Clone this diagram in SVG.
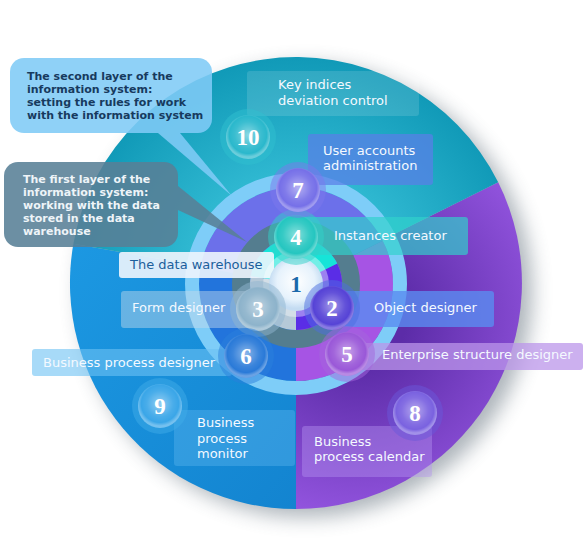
<svg xmlns="http://www.w3.org/2000/svg" width="588" height="547" viewBox="0 0 588 547">
<defs>
<style>
.lbl{font-family:"DejaVu Sans",Verdana,sans-serif;font-size:13px;fill:#f4f9ff}
.co{font-family:"DejaVu Sans",Verdana,sans-serif;font-size:11px;font-weight:bold}
.num{font-family:"Liberation Serif","Times New Roman",serif;font-size:23px;font-weight:bold;fill:#ffffff;text-anchor:middle}
.halo{opacity:.5}
</style>
<filter id="sh" x="-20%" y="-20%" width="140%" height="140%"><feGaussianBlur stdDeviation="10"/></filter>
<radialGradient id="gTeal" cx="296" cy="284" r="226" gradientUnits="userSpaceOnUse"><stop offset="0.4" stop-color="#34bdd5"/><stop offset="1" stop-color="#119ab8"/></radialGradient>
<radialGradient id="gPurple" cx="360" cy="320" r="230" gradientUnits="userSpaceOnUse"><stop offset="0.2" stop-color="#5c2ca8"/><stop offset="1" stop-color="#9d5ce9"/></radialGradient>
<linearGradient id="gBlue" x1="0" y1="0" x2="1" y2="1"><stop offset="0" stop-color="#1c98e2"/><stop offset="1" stop-color="#1384d0"/></linearGradient>
<radialGradient id="gloss" cx="0.5" cy="0.45" r="0.5"><stop offset="0" stop-color="#fff" stop-opacity=".45"/><stop offset=".6" stop-color="#fff" stop-opacity=".08"/><stop offset=".85" stop-color="#fff" stop-opacity="0"/><stop offset="1" stop-color="#fff" stop-opacity=".3"/></radialGradient>
<radialGradient id="gOne" cx="0.5" cy="0.45" r="0.5"><stop offset="0" stop-color="#ffffff"/><stop offset=".7" stop-color="#e6f2fc"/><stop offset="1" stop-color="#c4dcf2"/></radialGradient>
</defs>
<rect width="588" height="547" fill="#ffffff"/>

<g id="disc">
<circle cx="306" cy="291" r="226" fill="#4a5a68" opacity=".45" filter="url(#sh)"/>
<path d="M296,283 L498.2,182.2 A226,226 0 0 1 296,509 Z" fill="url(#gPurple)"/>
<path d="M296,283 L296,509 A226,226 0 0 1 73.4,243.8 Z" fill="url(#gBlue)"/>
<path d="M296,283 L73.4,243.8 A226,226 0 0 1 498.2,182.2 Z" fill="url(#gTeal)"/>
<path d="M296,284 L382.8,240.7 A97,97 0 0 1 296,381 Z" fill="#a654e4"/>
<path d="M296,284 L296,381 A97,97 0 0 1 200.5,267.2 Z" fill="#2274dc"/>
<path d="M296,284 L200.5,267.2 A97,97 0 0 1 382.8,240.7 Z" fill="#6c70ea"/>
<circle cx="296" cy="284" r="104" fill="none" stroke="#7ecdf8" stroke-width="14"/>
<circle cx="296" cy="284" r="55" fill="none" stroke="#547d8f" stroke-width="18"/>
<path d="M296,284 L337.2,263.5 A46,46 0 0 1 296,330 Z" fill="#5a2de6"/>
<path d="M296,284 L296,330 A46,46 0 0 1 250.7,276 Z" fill="#b6c9d8"/>
<path d="M296,284 L250.7,276 A46,46 0 0 1 337.2,263.5 Z" fill="#16e4d8"/>
</g>

<g id="connectors">
<path d="M158,133 L232,196 L180,133 Z" fill="#7fcbf6" opacity=".88"/>
<path d="M178,186 L247,242 L178,210 Z" fill="#587f96" opacity=".88"/>
</g>

<g id="callout-second">
<rect x="10" y="58" width="202" height="75" rx="14" fill="#7fcbf6" opacity=".88"/>
<text class="co" fill="#173a5e"><tspan x="27" y="80">The second layer of the</tspan><tspan x="27" y="93">information system:</tspan><tspan x="27" y="106">setting the rules for work</tspan><tspan x="27" y="119">with the information system</tspan></text>
</g>
<g id="callout-first">
<rect x="4" y="162" width="174" height="85" rx="14" fill="#587f96" opacity=".88"/>
<text class="co" fill="#eef4f8"><tspan x="23" y="183">The first layer of the</tspan><tspan x="23" y="196">information system:</tspan><tspan x="23" y="209">working with the data</tspan><tspan x="23" y="222">stored in the data</tspan><tspan x="23" y="235">warehouse</tspan></text>
</g>

<g id="label-key">
<rect x="247" y="71" width="172" height="45" rx="3" fill="#ffffff" opacity=".13"/>
<text class="lbl"><tspan x="278" y="89">Key indices</tspan><tspan x="278" y="105">deviation control</tspan></text>
</g>
<g id="label-user">
<rect x="308" y="134" width="125" height="51" rx="3" fill="#5a7ee8" opacity=".72"/>
<text class="lbl"><tspan x="323" y="155">User accounts</tspan><tspan x="323" y="170">administration</tspan></text>
</g>
<g id="label-instances">
<rect x="290" y="217" width="178" height="38" rx="3" fill="#30d2cc" opacity=".68"/>
<text class="lbl" x="334" y="240">Instances creator</text>
</g>
<g id="label-warehouse">
<rect x="119" y="252" width="155" height="26" rx="3" fill="#eef5fd" opacity=".9"/>
<text class="lbl" x="130" y="269" style="fill:#1c5f9c">The data warehouse</text>
</g>
<g id="label-form">
<rect x="121" y="291" width="140" height="37" rx="3" fill="#c8dcec" opacity=".45"/>
<text class="lbl" x="132" y="312">Form designer</text>
</g>
<g id="label-object">
<rect x="330" y="291" width="164" height="36" rx="3" fill="#5a8cf0" opacity=".8"/>
<text class="lbl" x="374" y="312">Object designer</text>
</g>
<g id="label-bpd">
<rect x="32" y="349" width="200" height="27" rx="3" fill="#6cc2f4" opacity=".6"/>
<text class="lbl" x="43" y="367">Business process designer</text>
</g>
<g id="label-esd">
<rect x="350" y="343" width="233" height="27" rx="3" fill="#bb95ea" opacity=".75"/>
<text class="lbl" x="382" y="359">Enterprise structure designer</text>
</g>
<g id="label-bpm">
<rect x="174" y="410" width="121" height="56" rx="3" fill="#60b8f0" opacity=".38"/>
<text class="lbl"><tspan x="197" y="427">Business</tspan><tspan x="197" y="442.5">process</tspan><tspan x="197" y="458">monitor</tspan></text>
</g>
<g id="label-bpc">
<rect x="302" y="426" width="130" height="51" rx="3" fill="#b494f0" opacity=".42"/>
<text class="lbl"><tspan x="314" y="446">Business</tspan><tspan x="314" y="461">process calendar</tspan></text>
</g>

<g id="node-1">
<circle cx="296" cy="284" r="33" fill="#ffffff" opacity=".4"/>
<circle cx="296" cy="284" r="27" fill="url(#gOne)"/>
<text class="num" x="296" y="292" style="fill:#1b69ab">1</text>
</g>
<g id="node-2">
<circle cx="332" cy="308" r="28" fill="#4c6ee0" class="halo"/>
<circle cx="332" cy="308" r="22" fill="#5643d6"/>
<circle cx="332" cy="308" r="22" fill="url(#gloss)"/>
<text class="num" x="332" y="316">2</text>
</g>
<g id="node-3">
<circle cx="258" cy="309" r="28" fill="#8fb6d0" class="halo"/>
<circle cx="258" cy="309" r="22" fill="#8db3cb"/>
<circle cx="258" cy="309" r="22" fill="url(#gloss)"/>
<text class="num" x="258" y="317">3</text>
</g>
<g id="node-4">
<circle cx="296" cy="237" r="28" fill="#2fd2c8" class="halo"/>
<circle cx="296" cy="237" r="22" fill="#25c6c0"/>
<circle cx="296" cy="237" r="22" fill="url(#gloss)"/>
<text class="num" x="296" y="245">4</text>
</g>
<g id="node-5">
<circle cx="347" cy="354" r="28" fill="#a466dc" class="halo"/>
<circle cx="347" cy="354" r="22" fill="#9a58d8"/>
<circle cx="347" cy="354" r="22" fill="url(#gloss)"/>
<text class="num" x="347" y="362">5</text>
</g>
<g id="node-6">
<circle cx="246" cy="356" r="28" fill="#2a80dc" class="halo"/>
<circle cx="246" cy="356" r="22" fill="#2a7ad8"/>
<circle cx="246" cy="356" r="22" fill="url(#gloss)"/>
<text class="num" x="246" y="364">6</text>
</g>
<g id="node-7">
<circle cx="298" cy="190" r="28" fill="#7c78ec" class="halo"/>
<circle cx="298" cy="190" r="22" fill="#7670e8"/>
<circle cx="298" cy="190" r="22" fill="url(#gloss)"/>
<text class="num" x="298" y="198">7</text>
</g>
<g id="node-8">
<circle cx="415" cy="413" r="28" fill="#6a58da" class="halo"/>
<circle cx="415" cy="413" r="22" fill="#7a62e0"/>
<circle cx="415" cy="413" r="22" fill="url(#gloss)"/>
<text class="num" x="415" y="421">8</text>
</g>
<g id="node-9">
<circle cx="160" cy="406" r="28" fill="#40ace8" class="halo"/>
<circle cx="160" cy="406" r="22" fill="#3aa6e8"/>
<circle cx="160" cy="406" r="22" fill="url(#gloss)"/>
<text class="num" x="160" y="414">9</text>
</g>
<g id="node-10">
<circle cx="248" cy="137" r="28" fill="#30c0d0" class="halo"/>
<circle cx="248" cy="137" r="22" fill="#2ab8cc"/>
<circle cx="248" cy="137" r="22" fill="url(#gloss)"/>
<text class="num" x="248" y="145">10</text>
</g>
</svg>
